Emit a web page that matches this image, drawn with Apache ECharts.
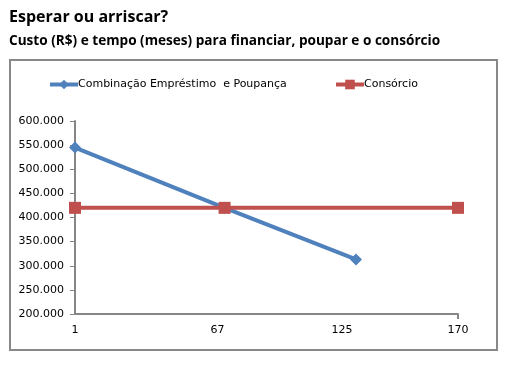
<!DOCTYPE html>
<html><head><meta charset="utf-8">
<script src="https://cdn.jsdelivr.net/npm/echarts@6/dist/echarts.min.js"></script>
<style>html,body{margin:0;padding:0;background:#fff}#c{width:517px;height:371px}</style>
</head><body><div id="c"></div>
<script>
const title = 'Esperar ou arriscar?';
const subtitle = 'Custo (R$) e tempo (meses) para financiar, poupar e o consórcio';
const seriesNames = ['Combinação Empréstimo  e Poupança', 'Consórcio'];
const xTicks = [1, 67, 125, 170];
const blueX = [1, 67, 125];
const blueY = [545000, 420000, 313000];
const redX = [1, 67, 170];
const redY = [420000, 420000, 420000];

const fmt = v => {
  const s = String(Math.round(v));
  return s.replace(/\B(?=(\d{3})+(?!\d))/g, '.');
};
const zip = (a, b) => a.map((x, i) => [x, b[i]]);
const font = 'DejaVu Sans';
const xShift = {67: 14, 125: 28};
const chart = echarts.init(document.getElementById('c'));
chart.setOption({
  animation: false,
  title: [
    {text: title, left: 4, top: 4, textStyle: {fontFamily: 'Open Sans', fontWeight: 'bold', fontSize: 16, color: '#000'}},
    {text: subtitle, left: 4, top: 29, textStyle: {fontFamily: 'Open Sans', fontWeight: 'bold', fontSize: 13.6, color: '#000'}}
  ],
  graphic: [{type: 'rect', shape: {x: 10, y: 60, width: 487, height: 290}, style: {fill: 'none', stroke: '#888', lineWidth: 2}, z: -1}],
  legend: [
    {data: [seriesNames[0]], left: 43, top: 74, itemWidth: 28, itemHeight: 12,
     lineStyle: {width: 4}, textStyle: {fontFamily: font, fontSize: 11, color: '#000', padding: [0,0,0,-5]}},
    {data: [seriesNames[1]], left: 329, top: 74, itemWidth: 28, itemHeight: 12,
     lineStyle: {width: 4}, textStyle: {fontFamily: font, fontSize: 11, color: '#000', padding: [0,0,0,-5]}}
  ],
  grid: {left: 75, right: 59, top: 121, bottom: 57, containLabel: false},
  xAxis: {
    type: 'value', min: 1, max: 170,
    splitLine: {show: false},
    axisLine: {lineStyle: {color: '#868686', width: 2}},
    axisTick: {show: true, customValues: [170], length: 5, lineStyle: {color: '#868686', width: 2}},
    axisLabel: {customValues: xTicks, fontFamily: font, fontSize: 11, color: '#000', margin: 11,
      formatter: v => xShift[v] ? '{s' + v + '|' + v + '}' : String(v),
      rich: {s67: {padding: [0, 14, 0, 0], fontFamily: font, fontSize: 11}, s125: {padding: [0, 28, 0, 0], fontFamily: font, fontSize: 11}}}
  },
  yAxis: {
    type: 'value', min: 200000, max: 600000, interval: 50000,
    splitLine: {show: false},
    axisLine: {show: true, lineStyle: {color: '#868686', width: 2}},
    axisTick: {show: true, length: 5, lineStyle: {color: '#868686', width: 1}},
    axisLabel: {formatter: fmt, fontFamily: font, fontSize: 11, color: '#000', margin: 11}
  },
  series: [
    {name: seriesNames[0], type: 'line', data: zip(blueX, blueY), symbol: 'diamond', symbolSize: 12,
     lineStyle: {color: '#4F81BD', width: 4}, itemStyle: {color: '#4F81BD'}, z: 2},
    {name: seriesNames[1], type: 'line', data: zip(redX, redY), symbol: 'rect', symbolSize: 12,
     lineStyle: {color: '#C0504D', width: 4}, itemStyle: {color: '#C0504D'}, z: 3}
  ]
});
</script></body></html>
